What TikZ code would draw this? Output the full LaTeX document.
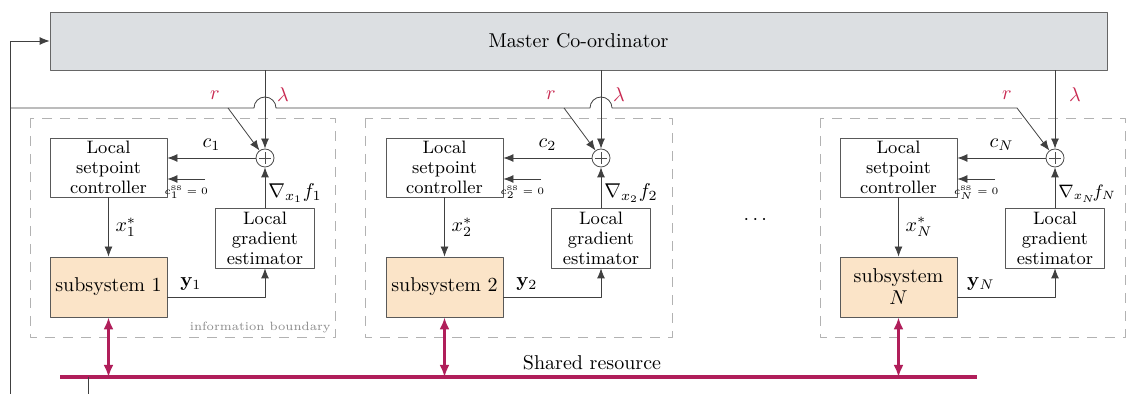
\documentclass[tikz,border=0pt]{standalone}
\usepackage{amsmath}
\usetikzlibrary{arrows.meta}
\definecolor{mastergray}{RGB}{220,223,226}
\definecolor{subfill}{RGB}{251,228,200}
\definecolor{resred}{RGB}{176,30,90}
\definecolor{lblred}{RGB}{200,40,80}
\tikzset{
	ctrlbox/.style={draw=black!65, fill=white, align=center, inner sep=0pt, minimum width=58.5pt, minimum height=29.5pt, font=\fontsize{9}{10}\selectfont},
	gradbox/.style={ctrlbox, minimum width=49.5pt, minimum height=30pt},
	subbox/.style={draw=black!65, fill=subfill, align=center, inner sep=0pt, minimum width=58.5pt, minimum height=30pt, font=\fontsize{10}{11}\selectfont},
	sumnode/.style={circle, draw=black!70, fill=white, minimum size=9pt, inner sep=0pt,
		path picture={\draw[black!70] ([yshift=-1.5pt]path picture bounding box.north) -- ([yshift=1.5pt]path picture bounding box.south) ([xshift=1.5pt]path picture bounding box.west) -- ([xshift=-1.5pt]path picture bounding box.east);}},
	boundary/.style={draw=black!30, dash pattern=on 5pt off 4pt},
	redlbl/.style={text=lblred, font=\normalsize},
	gradlbl/.style={right, inner sep=1.5pt, pos=0.35},
	reslink/.style={draw=resred, line width=1.2pt, {Latex[length=6pt,width=5pt]}-{Latex[length=6pt,width=5pt]}},
}
\begin{document}
\begin{tikzpicture}[x=0.5pt, y=-0.5pt, line join=round, >={Latex[length=5pt,width=4pt]}, draw=black!75]
	\useasboundingbox (0,0) rectangle (1128,394);
	% master and feedback
	\node[draw=black!60, fill=mastergray, minimum width=528.5pt, minimum height=29pt, inner sep=0pt] (master) at (578.5,41) {Master Co-ordinator};
	\coordinate (fbot) at (10,394);
	\coordinate (rbus) at (10,108);
	\draw[->] (fbot) |- (master.west);
	% information boundaries
	\draw[boundary] (30,118) rectangle (335,337);
	\draw[boundary] (365,118) rectangle (672,337);
	\draw[boundary] (820,118) rectangle (1125,337);
	\node[anchor=south east, text=black!45, font=\fontsize{6}{7}\selectfont, inner sep=1pt] at (333,335) {information boundary};

	% block 1
	\node[ctrlbox] (ctrl1) at (108.5,167.5) {Local\\setpoint\\controller};
	\node[gradbox] (grad1) at (265,238) {Local\\gradient\\estimator};
	\node[subbox] (sub1) at (108.5,287) {subsystem 1};
	\node[sumnode] (sum1) at (265,158) {};
	\coordinate (css1) at (205,179);
	\coordinate (r1) at (228,108);
	\draw[->] (master.south -| sum1) -- (sum1.north);
	\draw[->] (r1) -- (sum1);
	\draw[->] (sum1.west) -- (sum1.west -| ctrl1.east) node[midway, above] {$c_1$};
	\draw[->] (css1) -- (css1 -| ctrl1.east) node[midway, below, font=\tiny] {$c_1^{\mathrm{ss}}=0$};
	\draw[->] (grad1.north) -- (sum1.south) node[gradlbl] {$\nabla_{x_1} f_1$};
	\draw[->] (ctrl1.south) -- (sub1.north) node[midway, right] {$x_1^*$};
	\draw[->] ([yshift=-5pt]sub1.east) -| (grad1.south) node[pos=0.12, above] {$\mathbf{y}_1$};
	\node[redlbl] at (215,95) {$r$};
	\node[redlbl] at (283,95) {$\lambda$};

	% block 2
	\node[ctrlbox] (ctrl2) at (444.5,167.5) {Local\\setpoint\\controller};
	\node[gradbox] (grad2) at (601,238) {Local\\gradient\\estimator};
	\node[subbox] (sub2) at (444.5,287) {subsystem 2};
	\node[sumnode] (sum2) at (601,158) {};
	\coordinate (css2) at (541,179);
	\coordinate (r2) at (564,108);
	\draw[->] (master.south -| sum2) -- (sum2.north);
	\draw[->] (r2) -- (sum2);
	\draw[->] (sum2.west) -- (sum2.west -| ctrl2.east) node[midway, above] {$c_2$};
	\draw[->] (css2) -- (css2 -| ctrl2.east) node[midway, below, font=\tiny] {$c_2^{\mathrm{ss}}=0$};
	\draw[->] (grad2.north) -- (sum2.south) node[gradlbl] {$\nabla_{x_2} f_2$};
	\draw[->] (ctrl2.south) -- (sub2.north) node[midway, right] {$x_2^*$};
	\draw[->] ([yshift=-5pt]sub2.east) -| (grad2.south) node[pos=0.12, above] {$\mathbf{y}_2$};
	\node[redlbl] at (551,95) {$r$};
	\node[redlbl] at (619,95) {$\lambda$};

	\node at (757,220) {$\cdots$};

	% block N
	\node[ctrlbox] (ctrlN) at (898.5,167.5) {Local\\setpoint\\controller};
	\node[gradbox] (gradN) at (1055,238) {Local\\gradient\\estimator};
	\node[subbox] (subN) at (898.5,287) {subsystem\\$N$};
	\node[sumnode] (sumN) at (1055,158) {};
	\coordinate (cssN) at (995,179);
	\coordinate (rN) at (1017,108);
	\draw[->] (master.south -| sumN) -- (sumN.north);
	\draw[->] (sumN.west) -- (sumN.west -| ctrlN.east) node[midway, above] {$c_N$};
	\draw[->] (cssN) -- (cssN -| ctrlN.east) node[midway, below, font=\tiny] {$c_N^{\mathrm{ss}}=0$};
	\draw[->] (gradN.north) -- (sumN.south) node[gradlbl, font=\small] {$\nabla_{x_N}\! f_N$};
	\draw[->] (ctrlN.south) -- (subN.north) node[midway, right] {$x_N^*$};
	\draw[->] ([yshift=-5pt]subN.east) -| (gradN.south) node[pos=0.12, above] {$\mathbf{y}_N$};
	\node[redlbl] at (1007,95) {$r$};
	\node[redlbl] at (1075,95) {$\lambda$};

	% r line with hops over the lambda lines
	\draw[->] (rbus) -- (254,108) arc[start angle=180, end angle=0, radius=5.5pt]
		-- (590,108) arc[start angle=180, end angle=0, radius=5.5pt]
		-- (rN) -- (sumN);

	% shared resource
	\coordinate (busL) at (60,377);
	\coordinate (busR) at (977,377);
	\coordinate (tap) at (88,377);
	\draw[resred, line width=2pt] (busL) -- (busR);
	\draw (tap) -- (tap |- fbot);
	\node[above] at (592,377) {Shared resource};
	\draw[reslink] (sub1.south) -- (sub1.south |- busL);
	\draw[reslink] (sub2.south) -- (sub2.south |- busL);
	\draw[reslink] (subN.south) -- (subN.south |- busL);
\end{tikzpicture}
\end{document}
